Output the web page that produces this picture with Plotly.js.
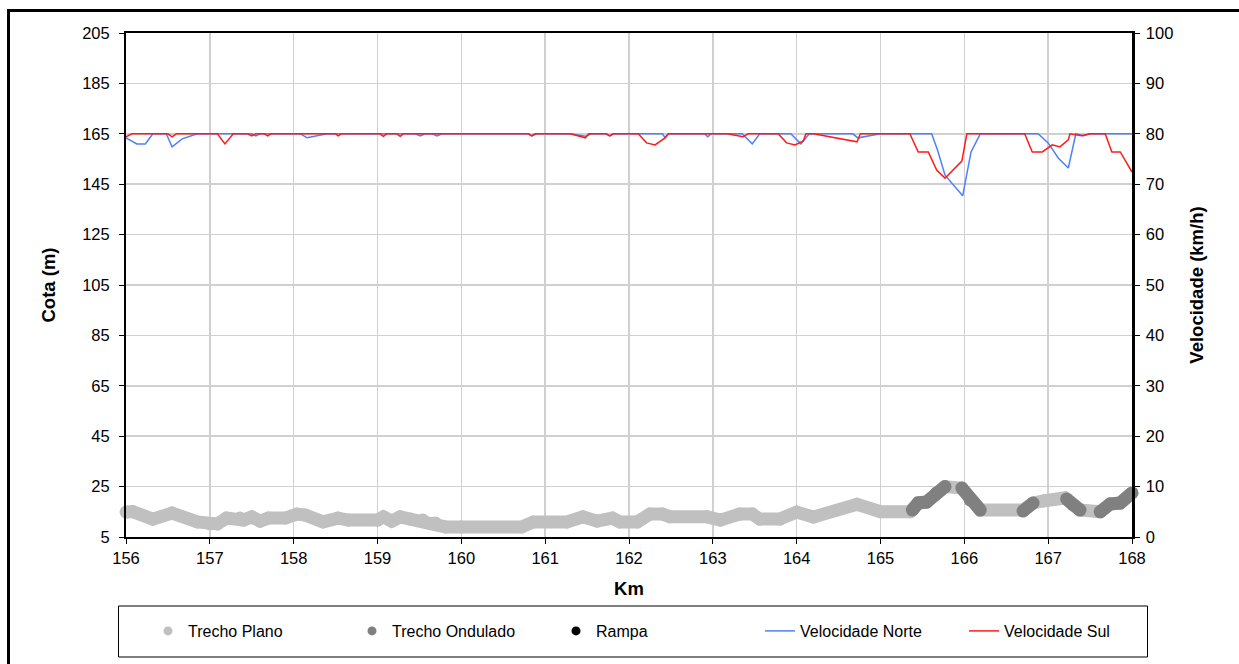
<!DOCTYPE html>
<html>
<head>
<meta charset="utf-8">
<script src="https://cdn.plot.ly/plotly-3.0.1.min.js"></script>
<style>
  html, body { margin: 0; padding: 0; background: #fff; }
  #chart { width: 1239px; height: 664px; }
</style>
</head>
<body>
<div id="chart"></div>
<script>
// ---------- DATA ----------
// Elevation profile (Cota, m) – full profile, "Trecho Plano" colour
const kmPlano = [156.0,156.08,156.32,156.55,156.85,157.0,157.09,157.2,157.36,157.4,157.5,157.6,157.7,157.9,158.04,158.14,158.35,158.53,158.65,159.0,159.07,159.17,159.27,159.39,159.54,159.69,159.81,160.0,160.72,160.86,161.26,161.45,161.62,161.8,161.89,162.1,162.25,162.4,162.49,162.93,163.09,163.32,163.47,163.56,163.8,164.0,164.2,164.72,165.0,165.35,165.45,165.55,165.67,165.77,165.97,166.07,166.19,166.7,166.82,166.94,167.2,167.3,167.38,167.62,167.74,167.86,168.0];
const cotaPlano = [14.9,15.1,12.1,14.5,11.0,10.2,10.2,12.5,12.5,11.7,13.0,11.3,12.5,12.5,14.1,13.7,11.0,12.5,11.7,11.7,13.0,11.3,13.0,12.1,11.7,10.6,9.0,9.0,9.0,11.0,11.0,13.0,11.3,12.5,11.0,11.0,14.1,14.1,13.0,13.0,11.7,14.1,14.1,12.1,12.1,14.9,12.9,18.0,15.0,15.0,18.5,18.9,22.5,25.0,24.4,19.7,15.7,15.7,18.5,19.3,20.5,17.7,15.7,15.0,18.1,18.5,22.5];

// "Trecho Ondulado" segments (null separates segments)
const kmOndulado = [165.38,165.45,165.55,165.67,165.77,null,165.97,166.07,166.19,null,166.7,166.82,null,167.22,167.3,167.38,null,167.62,167.74,167.86,168.0];
const cotaOndulado = [15.7,18.5,18.9,22.5,25.0,null,24.4,19.7,15.7,null,15.3,18.5,null,20.1,17.7,15.7,null,15.0,18.1,18.5,22.5];

// Velocidade Norte (km/h)
const kmNorte = [156.0,156.13,156.23,156.32,156.48,156.55,156.67,156.85,157.5,157.55,157.6,158.08,158.16,158.4,159.45,159.51,159.57,159.65,159.71,159.77,160.8,160.84,160.9,161.3,161.48,161.55,161.72,161.77,161.82,162.4,162.43,162.47,162.9,162.94,162.98,163.35,163.47,163.56,163.93,164.05,164.15,164.67,164.73,165.0,165.61,165.68,165.77,165.98,166.08,166.19,166.88,167.0,167.12,167.24,167.33,167.42,167.5,168.0];
const velNorte = [79.2,78.0,78.0,80,80,77.4,79.0,80,80,79.6,80,80,79.2,80,80,79.6,80,80,79.6,80,80,79.6,80,80,79.5,80,80,79.6,80,80,79.2,80,80,79.4,80,80,78.0,80,80,78.0,80,80,79.2,80,80,76.8,71.8,67.7,76.4,80,80,78.2,75.2,73.2,80,79.6,80,80];

// Velocidade Sul (km/h)
const kmSul = [156.0,156.07,156.5,156.55,156.6,157.09,157.18,157.28,157.45,157.5,157.55,157.65,157.69,157.73,158.5,158.53,158.57,159.03,159.07,159.11,159.23,159.27,159.31,160.8,160.84,160.88,161.3,161.48,161.52,161.73,161.77,161.81,162.11,162.21,162.31,162.43,162.47,163.17,163.36,163.42,163.78,163.88,163.98,164.08,164.11,164.2,164.72,164.76,165.35,165.45,165.57,165.67,165.77,165.97,166.03,166.72,166.81,166.93,167.05,167.14,167.24,167.26,167.4,167.5,167.68,167.76,167.86,167.98,168.0];
const velSul = [79.4,80,80,79.4,80,80,78.0,80,80,79.6,80,80,79.6,80,80,79.6,80,80,79.5,80,80,79.5,80,80,79.6,80,80,79.2,80,80,79.6,80,80,78.2,77.8,79.2,80,80,79.4,80,80,78.2,77.8,78.6,80,80,78.4,80,80,76.4,76.4,72.8,71.2,74.6,80,80,76.4,76.4,77.8,77.4,78.8,80,79.6,80,80,76.4,76.4,72.8,72.4];

const legendNames = ['Trecho Plano','Trecho Ondulado','Rampa','Velocidade Norte','Velocidade Sul'];

// ---------- STYLE ----------
const FONT = 'Liberation Sans, Arial, sans-serif';
const cPlano = '#c0c0c0', cOnd = '#808080', cRampa = '#000000';
const cNorte = '#4d7fff', cSul = '#ff1a1a';
const BAND = 13;

// geometry helpers (pixel -> paper)
const W = 1239, H = 664, L = 126, R = 1132, T = 33, B = 537;
const px = x => (x - L) / (R - L);
const py = y => (B - y) / (B - T);

const traces = [
  {x: kmPlano, y: cotaPlano, type: 'scatter', mode: 'lines+markers', showlegend: false,
   line: {color: cPlano, width: BAND}, marker: {color: cPlano, size: BAND}, cliponaxis: false, hoverinfo: 'skip'},
  {x: kmOndulado, y: cotaOndulado, type: 'scatter', mode: 'lines+markers', showlegend: false,
   line: {color: cOnd, width: BAND}, marker: {color: cOnd, size: BAND}, cliponaxis: false, hoverinfo: 'skip'},
  // legend entries
  {x: [null], y: [null], type: 'scatter', mode: 'markers', name: legendNames[0], marker: {color: cPlano, size: 9}},
  {x: [null], y: [null], type: 'scatter', mode: 'markers', name: legendNames[1], marker: {color: cOnd, size: 9}},
  {x: [null], y: [null], type: 'scatter', mode: 'markers', name: legendNames[2], marker: {color: cRampa, size: 9}},
  {x: kmNorte, y: velNorte, type: 'scatter', mode: 'lines', name: legendNames[3], yaxis: 'y2',
   line: {color: cNorte, width: 1.5}},
  {x: kmSul, y: velSul, type: 'scatter', mode: 'lines', name: legendNames[4], yaxis: 'y2',
   line: {color: cSul, width: 1.5}}
];

const tickFont = {family: FONT, size: 16.5, color: '#000'};
const titleFont = {family: FONT, size: 18.5, color: '#000', weight: 'bold'};

const layout = {
  width: W, height: H,
  margin: {l: L, r: W - R, t: T, b: H - B, pad: 0, autoexpand: false},
  paper_bgcolor: '#fff', plot_bgcolor: '#fff',
  showlegend: true,
  font: {family: FONT, size: 16, color: '#000'},
  xaxis: {
    range: [156, 168], dtick: 1, tick0: 156,
    showgrid: true, gridcolor: '#d0d0d0', gridwidth: 1.5,
    showline: true, linecolor: '#000', linewidth: 2, mirror: true,
    ticks: 'outside', ticklen: 5, tickcolor: '#000', tickwidth: 1,
    tickfont: tickFont, zeroline: false,
    title: {text: 'Km', font: titleFont, standoff: 16}
  },
  yaxis: {
    range: [5, 205], dtick: 20, tick0: 5,
    showgrid: true, gridcolor: '#d0d0d0', gridwidth: 1.5,
    showline: true, linecolor: '#000', linewidth: 2,
    ticks: 'outside', ticklen: 5, tickcolor: '#000', tickwidth: 1,
    tickfont: tickFont, zeroline: false, ticklabelstandoff: 6,
    title: {text: 'Cota (m)', font: titleFont, standoff: 22}
  },
  yaxis2: {
    range: [0, 100], dtick: 10, tick0: 0,
    overlaying: 'y', side: 'right', showgrid: false,
    showline: true, linecolor: '#000', linewidth: 2.5,
    ticks: 'outside', ticklen: 5, tickcolor: '#000', tickwidth: 1,
    tickfont: tickFont, zeroline: false, ticklabelstandoff: 3,
    title: {text: 'Velocidade (km/h)', font: titleFont, standoff: 18}
  },
  legend: {
    orientation: 'h', x: px(118), xanchor: 'left', y: py(631), yanchor: 'middle',
    bgcolor: 'rgba(0,0,0,0)', borderwidth: 0, indentation: 30,
    font: {family: FONT, size: 16, color: '#000'},
    entrywidth: 129, entrywidthmode: 'pixels', traceorder: 'normal',
    itemclick: false, itemdoubleclick: false
  },
  shapes: [
    // outer chart frame
    {type: 'rect', xref: 'paper', yref: 'paper', x0: px(8.5), x1: px(1250), y0: py(680), y1: py(10.5),
     line: {color: '#000', width: 3}, fillcolor: 'rgba(0,0,0,0)', layer: 'below'},
    // legend box
    {type: 'rect', xref: 'paper', yref: 'paper', x0: px(118.5), x1: px(1147.5), y0: py(657), y1: py(606),
     line: {color: '#000', width: 1}, fillcolor: 'rgba(0,0,0,0)'}
  ]
};

Plotly.newPlot('chart', traces, layout, {staticPlot: true, displayModeBar: false});
</script>
</body>
</html>
